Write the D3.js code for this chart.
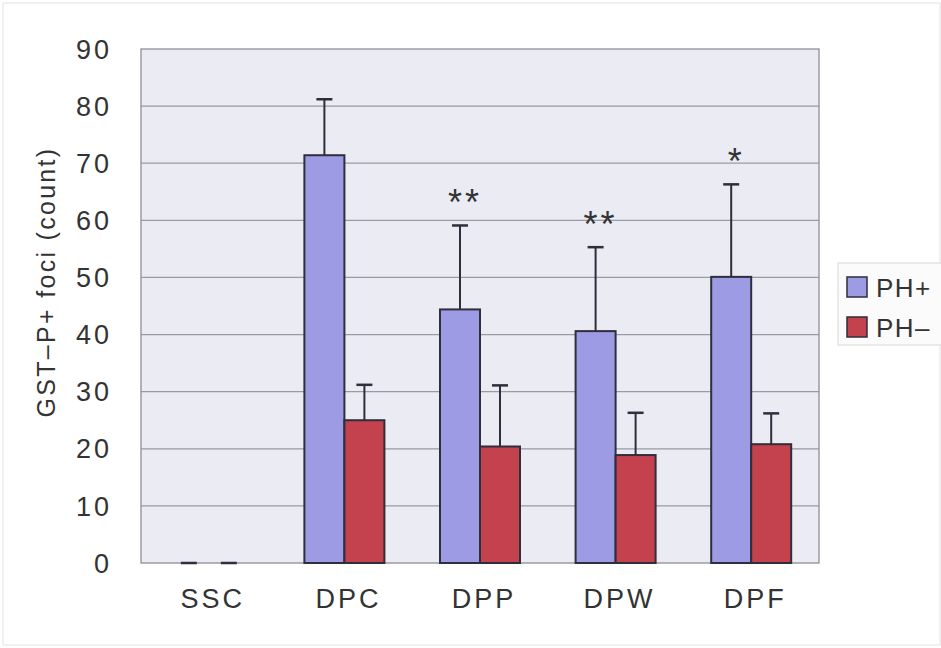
<!DOCTYPE html>
<html>
<head>
<meta charset="utf-8">
<script src="https://cdn.jsdelivr.net/npm/d3@7"></script>
<style>
  body { margin: 0; background: #fff; }
  text { font-family: Arial, "Liberation Sans", sans-serif; fill: #333; }
</style>
</head>
<body>
<div id="main"></div>
<script>
const ctx = {
    w: 941,
    h: 648,
    left: 141, right: 819, top: 49, bottom: 563,
};

// data
const groups = ["SSC", "DPC", "DPP", "DPW", "DPF"];
const series = ["PH+", "PH\u2013"];
const phPlusMean = [0, 71.4, 44.4, 40.6, 50.1];
const phPlusSd   = [0, 9.8, 14.7, 14.7, 16.2];
const phMinusMean = [0, 25.0, 20.4, 18.9, 20.8];
const phMinusSd   = [0, 6.2, 10.7, 7.4, 5.4];
const marks = ["", "", "**", "**", "*"];
const yTicks = [0, 10, 20, 30, 40, 50, 60, 70, 80, 90];
const colors = ["#9d9be4", "#c4414e"];

function createViz() {
    let svg = d3.select("#main").append("svg")
        .attr("width", ctx.w).attr("height", ctx.h);

    // faint frame round the picture
    svg.append("rect").attr("x", 3).attr("y", 3)
       .attr("width", ctx.w - 4).attr("height", ctx.h - 6)
       .attr("fill", "none").attr("stroke", "#e2e2e2");

    let x0 = d3.scaleBand().domain(groups).range([ctx.left, ctx.right]);
    let x1 = d3.scaleBand().domain(series).range([0, 80]);
    let y = d3.scaleLinear().domain([0, 90]).range([ctx.bottom, ctx.top]);

    // plot background
    svg.append("rect")
       .attr("x", ctx.left).attr("y", ctx.top)
       .attr("width", ctx.right - ctx.left).attr("height", ctx.bottom - ctx.top)
       .attr("fill", "#eaebf3");

    // gridlines
    svg.append("g").selectAll("line")
       .data(yTicks.slice(1, -1)).enter().append("line")
       .attr("x1", ctx.left).attr("x2", ctx.right)
       .attr("y1", d => y(d)).attr("y2", d => y(d))
       .attr("stroke", "#9a9aa2").attr("stroke-width", 1.3);

    svg.append("rect")
       .attr("x", ctx.left).attr("y", ctx.top)
       .attr("width", ctx.right - ctx.left).attr("height", ctx.bottom - ctx.top)
       .attr("fill", "none").attr("stroke", "#8e8e96").attr("stroke-width", 1.3);

    // y tick labels
    svg.append("g").selectAll("text")
       .data(yTicks).enter().append("text")
       .attr("x", 112).attr("y", d => y(d))
       .attr("dy", "0.36em")
       .attr("text-anchor", "end")
       .attr("font-size", 27).attr("letter-spacing", 3)
       .text(d => d);

    // y title
    svg.append("text")
       .attr("transform", "translate(55,282) rotate(-90)")
       .attr("text-anchor", "middle")
       .attr("font-size", 25).attr("letter-spacing", 2.3)
       .text("GST\u2013P+ foci (count)");

    // x labels
    svg.append("g").selectAll("text")
       .data(groups).enter().append("text")
       .attr("x", d => x0(d) + x0.bandwidth() / 2 + 4)
       .attr("y", 608)
       .attr("text-anchor", "middle")
       .attr("font-size", 27).attr("letter-spacing", 3)
       .text(d => d);

    const rows = groups.map((g, i) => ({
        group: g,
        bars: [
            {s: series[0], v: phPlusMean[i], e: phPlusSd[i], c: colors[0]},
            {s: series[1], v: phMinusMean[i], e: phMinusSd[i], c: colors[1]},
        ],
        mark: marks[i],
    }));

    let g = svg.append("g").selectAll("g")
        .data(rows).enter().append("g")
        .attr("transform", d => `translate(${x0(d.group) + x0.bandwidth() / 2 - 40},0)`);

    let bar = g.selectAll("g").data(d => d.bars).enter().append("g");

    // error bars (upper only)
    bar.append("line")
       .attr("x1", d => x1(d.s) + x1.bandwidth() / 2)
       .attr("x2", d => x1(d.s) + x1.bandwidth() / 2)
       .attr("y1", d => y(d.v)).attr("y2", d => y(d.v + d.e))
       .attr("stroke", "#2e2e3c").attr("stroke-width", 2);
    bar.append("line")
       .attr("x1", d => x1(d.s) + x1.bandwidth() / 2 - 8)
       .attr("x2", d => x1(d.s) + x1.bandwidth() / 2 + 8)
       .attr("y1", d => y(d.v + d.e)).attr("y2", d => y(d.v + d.e))
       .attr("stroke", "#2e2e3c").attr("stroke-width", 2.5);

    bar.filter(d => d.v > 0).append("rect")
       .attr("x", d => x1(d.s))
       .attr("y", d => y(d.v))
       .attr("width", x1.bandwidth())
       .attr("height", d => y(0) - y(d.v))
       .attr("fill", d => d.c)
       .attr("stroke", "#2e2e3c").attr("stroke-width", 2);

    // significance marks above PH+ error bars
    g.append("text")
       .attr("x", x1(series[0]) + x1.bandwidth() / 2 + 5)
       .attr("y", d => y(d.bars[0].v + d.bars[0].e) - 10)
       .attr("text-anchor", "middle")
       .attr("font-size", 36).attr("letter-spacing", 3)
       .text(d => d.mark);

    // legend
    let lg = svg.append("g").attr("transform", "translate(838,263)");
    lg.append("rect").attr("width", 110).attr("height", 82)
      .attr("fill", "#fbfbfb").attr("stroke", "#d8d8d8");
    let item = lg.selectAll("g.item").data(series).enter().append("g")
      .attr("class", "item")
      .attr("transform", (d, i) => `translate(9,${14 + i * 40})`);
    item.append("rect").attr("width", 20).attr("height", 20)
      .attr("fill", (d, i) => colors[i])
      .attr("stroke", "#2e2e3c").attr("stroke-width", 1.5);
    item.append("text").attr("x", 29).attr("y", 20)
      .attr("font-size", 26).attr("letter-spacing", 1.5)
      .text(d => d);
}

createViz();
</script>
</body>
</html>
